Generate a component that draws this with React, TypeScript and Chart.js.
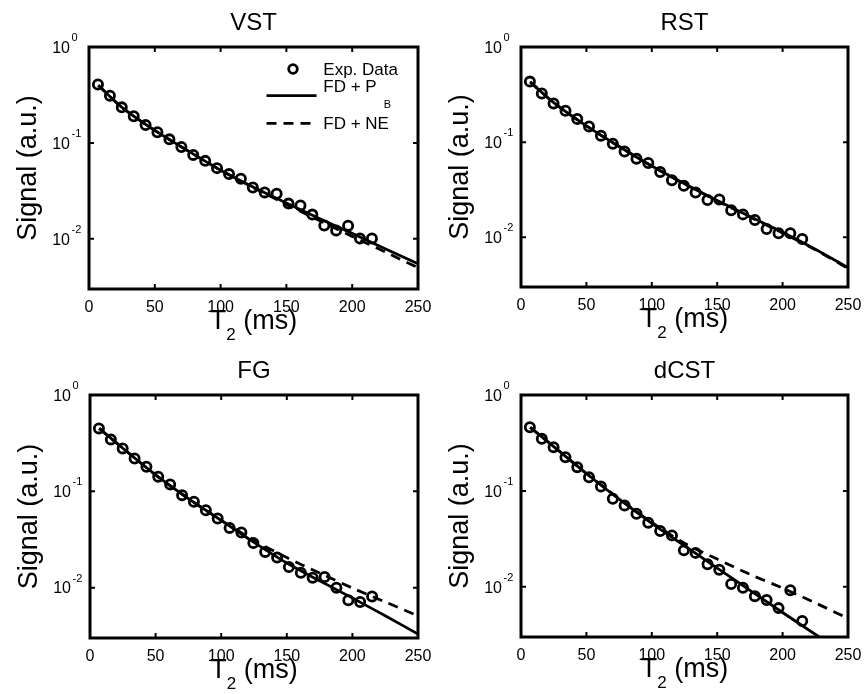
import React, { useEffect, useRef } from 'react';
import { Chart, registerables } from 'chart.js';

Chart.register(...registerables);

const FONT = '"Liberation Sans", Arial, Helvetica, sans-serif';

// ---- data ----
const panelTitles = ['VST', 'RST', 'FG', 'dCST'];

// echo times of the experimental points (ms)
const echoTimes = [6.8, 15.9, 24.9, 34.0, 43.0, 52.0, 61.1, 70.2, 79.2, 88.3, 97.3, 106.4, 115.4, 124.5, 133.5, 142.6, 151.6, 160.7, 169.7, 178.8, 187.8, 196.9, 205.9, 215.0];

const vstExp = [0.407, 0.31, 0.235, 0.19, 0.154, 0.129, 0.109, 0.0908, 0.075, 0.065, 0.0546, 0.0473, 0.0423, 0.0343, 0.0305, 0.0295, 0.0233, 0.0223, 0.0179, 0.0138, 0.0122, 0.0137, 0.0101, 0.0101];
const rstExp = [0.433, 0.325, 0.255, 0.214, 0.175, 0.146, 0.117, 0.096, 0.0797, 0.067, 0.0604, 0.0486, 0.0397, 0.0347, 0.0296, 0.0246, 0.025, 0.0192, 0.0174, 0.0152, 0.0122, 0.011, 0.011, 0.0096];
const fgExp = [0.45, 0.346, 0.279, 0.219, 0.18, 0.142, 0.118, 0.0912, 0.0778, 0.0637, 0.0522, 0.0417, 0.0373, 0.0291, 0.0235, 0.0205, 0.0164, 0.0143, 0.0127, 0.0129, 0.01, 0.0074, 0.0071, 0.0081];
const dcstExp = [0.461, 0.349, 0.286, 0.225, 0.177, 0.139, 0.111, 0.083, 0.0706, 0.0579, 0.0467, 0.0382, 0.0344, 0.024, 0.0226, 0.0172, 0.0151, 0.0107, 0.0098, 0.008, 0.0073, 0.006, 0.0092, 0.0044];

// model curves sampled at these times (ms)
const fitTimes = [7, 25, 50, 75, 100, 125, 150, 175, 200, 225, 250];
const dcstPbTimes = [7, 25, 50, 75, 100, 125, 150, 175, 200, 228];

const vstFdPb = [0.40, 0.235, 0.135, 0.083, 0.052, 0.0345, 0.0236, 0.0163, 0.0114, 0.0079, 0.0055];
const vstFdNe = [0.40, 0.235, 0.135, 0.083, 0.052, 0.0342, 0.0228, 0.0155, 0.0106, 0.0073, 0.0050];
const rstFdPb = [0.43, 0.26, 0.148, 0.09, 0.056, 0.0365, 0.0243, 0.0165, 0.0113, 0.0075, 0.0048];
const rstFdNe = [0.43, 0.26, 0.148, 0.09, 0.056, 0.0363, 0.0241, 0.0163, 0.0111, 0.0074, 0.0047];
const fgFdPb = [0.45, 0.28, 0.148, 0.084, 0.05, 0.0295, 0.018, 0.0118, 0.0078, 0.0051, 0.0033];
const fgFdNe = [0.45, 0.28, 0.148, 0.084, 0.05, 0.031, 0.0205, 0.0142, 0.0099, 0.0071, 0.0051];
const dcstFdPb = [0.46, 0.29, 0.152, 0.082, 0.046, 0.0268, 0.0157, 0.0092, 0.0054, 0.003];
const dcstFdNe = [0.46, 0.29, 0.152, 0.083, 0.047, 0.0285, 0.0195, 0.0135, 0.0097, 0.0068, 0.0047];

// axis ticks
const xTickValues = [0, 50, 100, 150, 200, 250];
const yTickValues = [1, 0.1, 0.01];
const yTickExponents = ['0', '-1', '-2'];

// legend labels
const legendExp = 'Exp. Data';
const legendPbMain = 'FD + P';
const legendPbSub = 'B';
const legendNe = 'FD + NE';

const yAxisLabel = 'Signal (a.u.)';
const xAxisMain = 'T';
const xAxisSub = '2';
const xAxisRest = ' (ms)';

// ---- layout (not data) ----
const CW = 434;
const CH = 347;
const DASH = [10, 7];
const panels = [
  { title: panelTitles[0], exp: vstExp, pbT: fitTimes, pb: vstFdPb, ne: vstFdNe, legend: true, pos: [0, 0], area: { left: 89, right: 418, top: 47, bottom: 289 } },
  { title: panelTitles[1], exp: rstExp, pbT: fitTimes, pb: rstFdPb, ne: rstFdNe, legend: false, pos: [434, 0], area: { left: 87, right: 414, top: 47, bottom: 287 } },
  { title: panelTitles[2], exp: fgExp, pbT: fitTimes, pb: fgFdPb, ne: fgFdNe, legend: false, pos: [0, 347], area: { left: 90, right: 418, top: 48, bottom: 291 } },
  { title: panelTitles[3], exp: dcstExp, pbT: dcstPbTimes, pb: dcstFdPb, ne: dcstFdNe, legend: false, pos: [434, 347], area: { left: 87, right: 414, top: 48, bottom: 290 } },
];

const decorPlugin = {
  id: 'decor',
  afterDraw(chart: any) {
    const o = chart.options.plugins.decor;
    const { ctx, chartArea: a, scales } = chart;
    const xs = scales.x;
    const ys = scales.y;
    ctx.save();
    ctx.strokeStyle = '#000';
    ctx.fillStyle = '#000';
    ctx.lineCap = 'butt';
    // inward tick marks
    ctx.lineWidth = 2;
    ctx.beginPath();
    xTickValues.forEach((v) => {
      const px = xs.getPixelForValue(v);
      ctx.moveTo(px, a.bottom);
      ctx.lineTo(px, a.bottom - 5);
      ctx.moveTo(px, a.top);
      ctx.lineTo(px, a.top + 5);
    });
    yTickValues.forEach((v) => {
      const py = ys.getPixelForValue(v);
      ctx.moveTo(a.left, py);
      ctx.lineTo(a.left + 5, py);
      ctx.moveTo(a.right, py);
      ctx.lineTo(a.right - 5, py);
    });
    ctx.stroke();
    // box
    ctx.lineWidth = 3;
    ctx.strokeRect(a.left, a.top, a.right - a.left, a.bottom - a.top);

    // y tick labels: 10^n
    yTickValues.forEach((v, i) => {
      const py = ys.getPixelForValue(v);
      ctx.font = `16px ${FONT}`;
      ctx.textAlign = 'right';
      ctx.textBaseline = 'alphabetic';
      ctx.fillText('10', a.left - 19, py + 5.8);
      ctx.font = `11px ${FONT}`;
      ctx.textAlign = 'left';
      ctx.fillText(yTickExponents[i], a.left - 17.5, py - 6);
    });

    // title
    const cx = (a.left + a.right) / 2;
    ctx.font = `24px ${FONT}`;
    ctx.textAlign = 'center';
    ctx.textBaseline = 'alphabetic';
    ctx.fillText(o.title, cx, a.top - 17);

    // y axis label
    ctx.save();
    ctx.translate(a.left - 53, (a.top + a.bottom) / 2);
    ctx.rotate(-Math.PI / 2);
    ctx.font = `27px ${FONT}`;
    ctx.textAlign = 'center';
    ctx.fillText(yAxisLabel, 0, 0);
    ctx.restore();

    // x axis label with subscript
    ctx.textAlign = 'left';
    ctx.font = `27px ${FONT}`;
    const wT = ctx.measureText(xAxisMain).width;
    const wR = ctx.measureText(xAxisRest).width;
    ctx.font = `17px ${FONT}`;
    const w2 = ctx.measureText(xAxisSub).width;
    const x0 = cx - (wT + w2 + wR) / 2;
    const by = a.bottom + 40;
    ctx.font = `27px ${FONT}`;
    ctx.fillText(xAxisMain, x0, by);
    ctx.font = `17px ${FONT}`;
    ctx.fillText(xAxisSub, x0 + wT, by + 11);
    ctx.font = `27px ${FONT}`;
    ctx.fillText(xAxisRest, x0 + wT + w2, by);

    // legend
    if (o.legend) {
      const r = a.right;
      const t = a.top;
      ctx.lineWidth = 2.8;
      ctx.beginPath();
      ctx.arc(r - 125, t + 22, 4.3, 0, Math.PI * 2);
      ctx.stroke();
      ctx.beginPath();
      ctx.moveTo(r - 151.5, t + 48.7);
      ctx.lineTo(r - 101.5, t + 48.7);
      ctx.stroke();
      ctx.setLineDash(DASH);
      ctx.beginPath();
      ctx.moveTo(r - 151.5, t + 76.3);
      ctx.lineTo(r - 101.5, t + 76.3);
      ctx.stroke();
      ctx.setLineDash([]);
      ctx.font = `17px ${FONT}`;
      ctx.textAlign = 'left';
      ctx.fillText(legendExp, r - 94.7, t + 28);
      ctx.fillText(legendPbMain, r - 94.7, t + 45.3);
      const wp = ctx.measureText(legendPbMain).width;
      ctx.font = `11px ${FONT}`;
      ctx.fillText(legendPbSub, r - 94.7 + wp + 7, t + 60.7);
      ctx.font = `17px ${FONT}`;
      ctx.fillText(legendNe, r - 94.7, t + 82);
    }
    ctx.restore();
  },
};

function Panel({ p }: { p: any }) {
  const ref = useRef<HTMLCanvasElement | null>(null);
  useEffect(() => {
    if (!ref.current) return;
    const area = p.area;
    const chart = new Chart(ref.current, {
      type: 'scatter',
      data: {
        datasets: [
          {
            label: legendExp,
            data: echoTimes.map((t, i) => ({ x: t, y: p.exp[i] })),
            showLine: false,
            pointRadius: 4.6,
            pointBorderWidth: 2.8,
            pointBorderColor: '#000',
            pointBackgroundColor: 'rgba(0,0,0,0)',
            pointStyle: 'circle',
          },
          {
            label: legendPbMain + legendPbSub,
            data: p.pbT.map((t: number, i: number) => ({ x: t, y: p.pb[i] })),
            showLine: true,
            pointRadius: 0,
            borderColor: '#000',
            borderWidth: 2.8,
            tension: 0.3,
          },
          {
            label: legendNe,
            data: fitTimes.map((t, i) => ({ x: t, y: p.ne[i] })),
            showLine: true,
            pointRadius: 0,
            borderColor: '#000',
            borderWidth: 2.8,
            borderDash: DASH,
            tension: 0.3,
          },
        ],
      },
      options: {
        responsive: false,
        animation: false,
        events: [],
        layout: { padding: { left: 0, top: area.top, right: CW - area.right, bottom: 0 } },
        plugins: {
          legend: { display: false },
          tooltip: { enabled: false },
          title: { display: false },
          decor: { title: p.title, legend: p.legend },
        } as any,
        scales: {
          x: {
            type: 'linear',
            min: 0,
            max: 250,
            afterBuildTicks: (s: any) => {
              s.ticks = xTickValues.map((v) => ({ value: v }));
            },
            ticks: { color: '#000', font: { family: FONT, size: 16 }, padding: 9, maxRotation: 0, autoSkip: false },
            grid: { display: false, drawTicks: false },
            border: { display: false },
            afterFit: (s: any) => {
              s.height = CH - area.bottom;
              s.paddingLeft = 0;
              s.paddingRight = 0;
            },
          },
          y: {
            type: 'logarithmic',
            min: 0.003,
            max: 1,
            ticks: { display: false },
            grid: { display: false, drawTicks: false },
            border: { display: false },
            afterFit: (s: any) => {
              s.width = area.left;
              s.paddingTop = 0;
              s.paddingBottom = 0;
            },
          },
        },
      } as any,
      plugins: [decorPlugin],
    });
    return () => chart.destroy();
  }, [p]);
  return (
    <div style={{ position: 'absolute', left: p.pos[0], top: p.pos[1], width: CW, height: CH }}>
      <canvas ref={ref} width={CW} height={CH} style={{ width: CW, height: CH, display: 'block' }} />
    </div>
  );
}

export default function App() {
  return (
    <div style={{ position: 'absolute', left: 0, top: 0, width: 868, height: 694, background: '#fff', overflow: 'hidden' }}>
      {panels.map((p, i) => (
        <Panel key={i} p={p} />
      ))}
    </div>
  );
}
